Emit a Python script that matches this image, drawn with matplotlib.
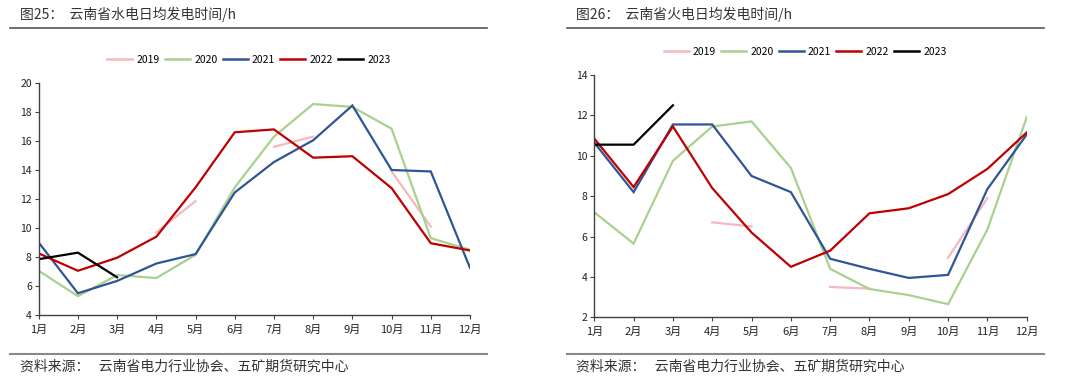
import numpy as np
import matplotlib
matplotlib.use("Agg")
import matplotlib.pyplot as plt
from matplotlib.lines import Line2D

plt.rcParams['font.family'] = ['Noto Sans CJK SC', 'DejaVu Sans']

months = ['1月', '2月', '3月', '4月', '5月', '6月', '7月', '8月', '9月', '10月', '11月', '12月']
years = ['2019', '2020', '2021', '2022', '2023']
nan = np.nan

# 云南省水电日均发电时间/h
hydro_2019 = [nan, nan, nan, 9.7, 11.85, nan, 15.6, 16.3, nan, 13.9, 10.1, nan]
hydro_2020 = [7.05, 5.3, 6.75, 6.55, 8.15, 12.8, 16.3, 18.55, 18.35, 16.85, 9.3, 8.5]
hydro_2021 = [9.0, 5.5, 6.35, 7.55, 8.2, 12.45, 14.55, 16.05, 18.45, 14.0, 13.9, 7.25]
hydro_2022 = [8.25, 7.05, 7.95, 9.4, 12.8, 16.6, 16.8, 14.85, 14.95, 12.75, 8.95, 8.45]
hydro_2023 = [7.85, 8.3, 6.6, nan, nan, nan, nan, nan, nan, nan, nan, nan]

# 云南省火电日均发电时间/h
thermal_2019 = [nan, nan, nan, 6.7, 6.5, nan, 3.5, 3.42, nan, 4.95, 7.9, nan]
thermal_2020 = [7.2, 5.65, 9.75, 11.45, 11.7, 9.4, 4.4, 3.4, 3.1, 2.65, 6.35, 11.9]
thermal_2021 = [10.65, 8.2, 11.55, 11.55, 9.0, 8.2, 4.9, 4.4, 3.95, 4.1, 8.35, 11.05]
thermal_2022 = [10.85, 8.45, 11.45, 8.4, 6.2, 4.5, 5.3, 7.15, 7.4, 8.1, 9.35, 11.15]
thermal_2023 = [10.55, 10.55, 12.5, nan, nan, nan, nan, nan, nan, nan, nan, nan]

colors = ['#F4B8BE', '#A9D18E', '#2F5597', '#C00000', '#000000']

fig = plt.figure(figsize=(10.8, 3.84), dpi=100)


def panel(rect, series, ylim, yticks, legend_y, title, title_x, line_x0, line_x1):
    ax = fig.add_axes(rect)
    x = np.arange(len(months))
    for vals, c in zip(series, colors):
        ax.plot(x, vals, color=c, lw=1.6, solid_joinstyle='miter')
    ax.set_xlim(0, 11)
    ax.set_ylim(*ylim)
    ax.set_yticks(yticks)
    ax.set_xticks(x)
    ax.set_xticklabels(months)
    for s in ['top', 'right']:
        ax.spines[s].set_visible(False)
    for s in ['left', 'bottom']:
        ax.spines[s].set_color('#404040')
        ax.spines[s].set_linewidth(1.0)
    ax.tick_params(axis='both', direction='out', length=3, width=0.8,
                   color='#404040', labelsize=7.5, labelcolor='#222222', pad=2)
    ax.tick_params(axis='x', pad=4, labelsize=8)
    handles = [Line2D([], [], color=c, lw=1.8) for c in colors]
    fig.legend(handles, years, loc='center', bbox_to_anchor=(rect[0] + rect[2] / 2 - 0.005, legend_y),
               ncol=5, frameon=False, fontsize=7.5, handlelength=2.4,
               handletextpad=0.4, columnspacing=0.5)
    fig.text(title_x, 1 - 14 / 384, title, fontsize=10, color='#333333', va='center')
    fig.add_artist(Line2D([line_x0, line_x1], [1 - 28 / 384] * 2, color='#555555', lw=1.2))
    fig.add_artist(Line2D([line_x0, line_x1], [1 - 354 / 384] * 2, color='#888888', lw=1.5))
    fig.text(title_x, 1 - 367 / 384, '资料来源：   云南省电力行业协会、五矿期货研究中心',
             fontsize=10, color='#333333', va='center')
    return ax


panel([38.7 / 1080, 1 - 315 / 384, (470 - 38.7) / 1080, (315 - 83) / 384],
      [hydro_2019, hydro_2020, hydro_2021, hydro_2022, hydro_2023],
      (4, 20), range(4, 21, 2), 1 - 60 / 384,
      '图25：  云南省水电日均发电时间/h', 20 / 1080, 10 / 1080, 487 / 1080)

panel([594.3 / 1080, 1 - 317.3 / 384, (1026.7 - 594.3) / 1080, (317.3 - 75) / 384],
      [thermal_2019, thermal_2020, thermal_2021, thermal_2022, thermal_2023],
      (2, 14), range(2, 15, 2), 1 - 52 / 384,
      '图26：  云南省火电日均发电时间/h', 576 / 1080, 567 / 1080, 1044 / 1080)

fig.savefig('out.png', dpi=100)
